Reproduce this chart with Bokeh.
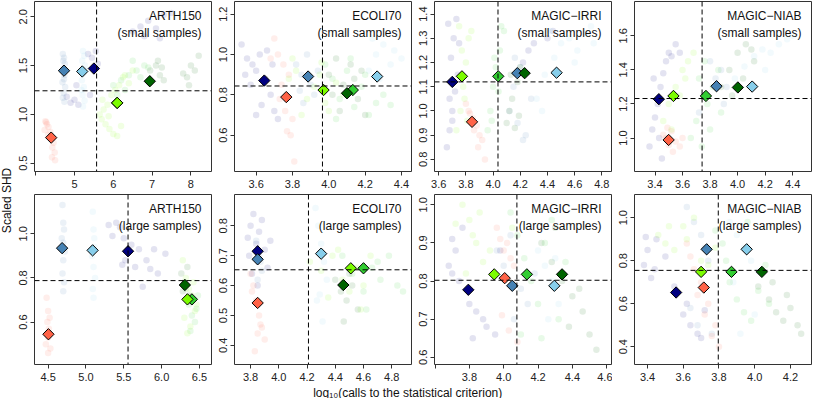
import numpy as np
from bokeh.plotting import figure
from bokeh.models import Range1d, FixedTicker, Span
from bokeh.layouts import row, column
from bokeh.core.properties import value
from bokeh.embed import file_html
from bokeh.resources import INLINE

FONT = "Liberation Sans"

# ---- series (7 methods), drawn in this order ----
SERIES = ["navy", "steelblue", "skyblue", "tomato", "limegreen", "lawngreen", "darkgreen"]
COLORS = ["#000080", "#4682B4", "#87CEEB", "#FF6347", "#32CD32", "#7CFC00", "#006400"]

PANEL_NAMES = ["ARTH150", "ECOLI70", "MAGIC\u2212IRRI", "MAGIC\u2212NIAB"]
ROW_LABELS = ["(small samples)", "(large samples)"]

Y_TITLE = "Scaled SHD"
X_TITLE = "log\u2081\u2080(calls to the statistical criterion)"

# ---- axis ranges ----
x_ranges = [(3.97, 8.53), (3.481, 4.455), (3.569, 4.871), (3.251, 4.537),
            (4.32, 6.659), (3.686, 4.94), (3.597, 4.628), (3.327, 4.318)]
y_ranges = [(0.415, 2.157), (0.42, 1.263), (0.75, 1.452), (0.804, 1.801),
            (0.408, 1.178), (0.336, 0.905), (0.581, 1.027), (0.317, 1.108)]

# ---- ticks ----
x_ticks = [[4, 5, 6, 7, 8], [3.6, 3.8, 4.0, 4.2, 4.4], [3.6, 3.8, 4.0, 4.2, 4.4, 4.6, 4.8],
           [3.4, 3.6, 3.8, 4.0, 4.2, 4.4], [4.5, 5.0, 5.5, 6.0, 6.5],
           [3.8, 4.0, 4.2, 4.4, 4.6, 4.8], [3.6, 3.8, 4.0, 4.2, 4.4, 4.6],
           [3.4, 3.6, 3.8, 4.0, 4.2]]
x_tick_labels = [["", "5", "6", "7", "8"], ["3.6", "3.8", "4.0", "4.2", "4.4"],
                 ["3.6", "3.8", "4.0", "4.2", "4.4", "4.6", "4.8"],
                 ["3.4", "3.6", "3.8", "4.0", "4.2", "4.4"], ["4.5", "5.0", "5.5", "6.0", "6.5"],
                 ["3.8", "4.0", "4.2", "4.4", "4.6", "4.8"], ["", "3.8", "4.0", "4.2", "4.4", "4.6"],
                 ["3.4", "3.6", "3.8", "4.0", "4.2"]]
y_ticks = [[0.5, 1.0, 1.5, 2.0], [0.6, 0.8, 1.0, 1.2], [0.8, 0.9, 1.0, 1.1, 1.2, 1.3, 1.4],
           [1.0, 1.2, 1.4, 1.6], [0.6, 0.8, 1.0], [0.4, 0.5, 0.6, 0.7, 0.8],
           [0.6, 0.7, 0.8, 0.9, 1.0], [0.4, 0.6, 0.8, 1.0]]
y_tick_labels = [["0.5", "1.0", "1.5", "2.0"], ["0.6", "0.8", "1.0", "1.2"],
                 ["0.8", "0.9", "1.0", "1.1", "1.2", "1.3", "1.4"], ["1.0", "1.2", "1.4", "1.6"],
                 ["0.6", "0.8", "1.0"], ["0.4", "0.5", "0.6", "0.7", "0.8"],
                 ["0.6", "0.7", "0.8", "0.9", "1.0"], ["0.4", "0.6", "0.8", "1.0"]]

# ---- dashed reference lines ----
h_lines = [1.242, 0.844, 1.12, 1.232, 0.788, 0.653, 0.802, 0.755]
v_lines = [5.57, 3.965, 4.036, 3.742, 5.556, 4.21, 4.077, 3.796]

# ---- diamonds (means), in SERIES order ----
arth150_small_x = [5.50, 4.73, 5.20, 4.40, 6.10, 6.10, 6.94]
arth150_small_y = [1.47, 1.448, 1.44, 0.762, 1.118, 1.118, 1.34]
ecoli70_small_x = [3.645, 3.886, 4.266, 3.766, 4.132, 3.971, 4.10]
ecoli70_small_y = [0.871, 0.891, 0.891, 0.789, 0.824, 0.824, 0.808]
irri_small_x = [3.70, 4.178, 4.467, 3.845, 4.038, 3.771, 4.232]
irri_small_y = [1.12, 1.156, 1.158, 0.955, 1.143, 1.143, 1.156]
niab_small_x = [3.428, 3.847, 4.106, 3.499, 3.770, 3.534, 4.002]
niab_small_y = [1.228, 1.304, 1.302, 0.989, 1.247, 1.247, 1.297]
arth150_large_x = [5.556, 4.685, 5.088, 4.504, 6.40, 6.341, 6.307]
arth150_large_y = [0.921, 0.935, 0.925, 0.545, 0.703, 0.703, 0.768]
ecoli70_large_x = [3.85, 3.85, 4.30, 3.85, 4.60, 4.51, 4.457]
ecoli70_large_y = [0.715, 0.688, 0.707, 0.542, 0.658, 0.658, 0.602]
irri_large_x = [3.794, 4.05, 4.295, 4.006, 4.135, 3.945, 4.34]
irri_large_y = [0.777, 0.7875, 0.7875, 0.8075, 0.8175, 0.8175, 0.8175]
niab_large_x = [3.56, 3.731, 3.955, 3.715, 3.87, 3.70, 4.04]
niab_large_y = [0.652, 0.853, 0.853, 0.675, 0.748, 0.748, 0.748]

# ---- faint clouds of individual runs ----
arth150_small_cloud = {
    "navy": ([4.80, 4.90, 5.00, 5.10, 5.35, 5.45, 5.55, 5.60, 5.40, 5.05, 6.50, 6.70, 6.90, 7.10, 7.30, 7.50, 6.80, 7.20],
             [1.18, 1.12, 1.15, 1.10, 1.62, 1.58, 1.65, 1.52, 1.20, 1.30, 1.85, 1.90, 1.96, 1.88, 2.02, 2.04, 1.80, 1.78]),
    "steelblue": ([4.70, 4.73, 4.75, 4.71, 4.74, 4.69, 4.76, 4.72, 4.70, 4.74, 4.73, 4.71],
                  [1.62, 1.58, 1.52, 1.47, 1.40, 1.33, 1.28, 1.22, 1.17, 1.13, 1.36, 1.55]),
    "skyblue": ([5.22, 5.25, 5.20, 5.27, 5.23, 5.19, 5.24, 5.21, 5.26, 5.22, 5.18, 5.24],
                [1.65, 1.60, 1.55, 1.50, 1.42, 1.35, 1.28, 1.20, 1.14, 1.08, 1.25, 1.46]),
    "tomato": ([4.25, 4.29, 4.33, 4.23, 4.38, 4.42, 4.46, 4.43, 4.49, 4.42, 4.50, 4.32, 4.27],
               [0.93, 0.90, 0.87, 0.84, 0.82, 0.76, 0.71, 0.66, 0.61, 0.56, 0.53, 0.79, 0.92]),
    "limegreen": ([6.00, 6.20, 6.40, 6.60, 6.80, 6.30, 6.50, 6.10, 6.70, 6.90],
                  [1.30, 1.35, 1.40, 1.45, 1.50, 1.25, 1.55, 1.20, 1.38, 1.48]),
    "lawngreen": ([5.65, 5.70, 5.80, 5.90, 5.75, 5.85, 6.00, 6.10, 6.20, 5.95, 6.05, 6.15, 6.25, 5.72, 5.88, 6.30, 6.40, 6.50],
                  [1.00, 0.95, 0.90, 0.85, 1.05, 1.10, 0.80, 0.78, 0.88, 1.20, 1.25, 1.30, 1.38, 1.15, 0.98, 1.40, 1.32, 1.45]),
    "darkgreen": ([6.95, 7.10, 7.20, 7.30, 7.15, 7.80, 7.90, 8.00, 8.10, 8.20, 7.25, 7.95],
                  [1.45, 1.50, 1.40, 1.35, 1.55, 1.42, 1.38, 1.50, 1.45, 1.60, 1.48, 1.30]),
}
ecoli70_small_cloud = {
    "navy": ([3.52, 3.55, 3.58, 3.60, 3.62, 3.65, 3.68, 3.70, 3.57, 3.63, 3.72, 3.54, 3.66, 3.60, 3.69],
             [1.05, 0.98, 0.95, 0.92, 1.00, 0.88, 0.80, 0.72, 0.85, 0.75, 0.68, 0.90, 1.02, 0.70, 0.95]),
    "steelblue": ([3.82, 3.85, 3.88, 3.90, 3.92, 3.86, 3.94, 3.84],
                  [0.95, 0.90, 1.00, 0.85, 0.80, 0.76, 0.92, 0.82]),
    "skyblue": ([4.22, 4.26, 4.30, 4.34, 4.38, 4.28, 4.36, 4.24, 4.40],
                [0.92, 1.00, 1.05, 0.95, 1.10, 0.88, 1.02, 1.08, 0.98]),
    "tomato": ([3.70, 3.72, 3.75, 3.78, 3.76, 3.80, 3.77, 3.79, 3.74, 3.73, 3.81, 3.68],
               [1.08, 1.00, 0.95, 0.90, 0.72, 0.68, 0.62, 0.60, 0.85, 0.78, 0.47, 0.98]),
    "limegreen": ([3.98, 4.02, 4.06, 4.10, 4.14, 4.18, 4.22, 4.26, 4.30, 4.04, 4.12, 4.20, 4.34],
                  [0.95, 0.88, 0.78, 0.92, 0.74, 0.84, 0.70, 0.76, 0.80, 0.68, 0.98, 0.90, 0.75]),
    "lawngreen": ([3.78, 3.82, 3.88, 3.92, 3.96, 4.00, 4.04, 3.85, 3.95, 4.08, 3.80, 3.98],
                  [0.88, 0.92, 0.78, 0.84, 0.96, 0.72, 0.86, 0.70, 0.90, 0.80, 0.98, 0.76]),
    "darkgreen": ([4.00, 4.04, 4.08, 4.12, 4.16, 4.20, 4.06, 4.14, 4.02, 4.18],
                  [0.90, 0.98, 0.85, 0.95, 0.78, 0.70, 0.72, 0.88, 0.80, 0.92]),
}
irri_small_cloud = {
    "navy": ([3.66, 3.68, 3.70, 3.72, 3.74, 3.69, 3.71, 3.67, 3.73, 3.70, 3.75, 3.68, 4.22, 4.26, 4.30, 4.40, 4.44],
             [0.85, 0.92, 1.00, 1.08, 1.15, 1.22, 1.30, 1.36, 1.38, 0.96, 1.28, 1.05, 1.20, 1.25, 1.28, 1.30, 1.33]),
    "steelblue": ([4.12, 4.15, 4.18, 4.20, 4.24, 4.28, 4.16, 4.22],
                  [1.00, 1.10, 0.95, 1.18, 0.90, 1.05, 1.22, 0.88]),
    "skyblue": ([4.32, 4.38, 4.45, 4.50, 4.56, 4.62, 4.68, 4.74, 4.42, 4.60, 4.72, 4.36],
                [1.05, 1.15, 1.22, 1.28, 1.30, 1.25, 1.32, 1.28, 1.33, 1.20, 1.35, 1.00]),
    "tomato": ([3.80, 3.82, 3.85, 3.88, 3.90, 3.92, 3.86, 3.83, 3.94, 3.89],
               [1.03, 1.00, 0.97, 0.94, 0.90, 0.88, 0.92, 0.99, 0.80, 0.85]),
    "limegreen": ([3.96, 3.98, 4.00, 4.02, 4.05, 4.08, 4.04, 3.99, 4.06, 4.01],
                  [0.92, 1.00, 1.10, 1.18, 1.25, 1.33, 1.08, 0.96, 1.35, 1.22]),
    "lawngreen": ([3.73, 3.76, 3.78, 3.80, 3.82, 3.75, 3.79, 3.84, 3.77, 3.81],
                  [0.92, 1.00, 1.10, 1.20, 1.30, 1.35, 1.05, 1.33, 1.25, 0.96]),
    "darkgreen": ([4.10, 4.12, 4.14, 4.16, 4.18, 4.20, 4.13, 4.19],
                  [0.95, 1.00, 1.05, 0.93, 1.12, 1.18, 1.15, 0.98]),
}
niab_small_cloud = {
    "navy": ([3.36, 3.38, 3.40, 3.42, 3.44, 3.46, 3.48, 3.50, 3.52, 3.55, 3.58, 3.39, 3.45, 3.43],
             [0.95, 1.05, 1.12, 1.20, 1.30, 1.38, 1.45, 1.50, 1.48, 1.55, 1.50, 1.35, 0.88, 1.00]),
    "steelblue": ([3.72, 3.78, 3.84, 3.88, 3.92, 3.80, 3.90],
                  [1.15, 1.25, 1.35, 1.40, 1.30, 1.45, 1.20]),
    "skyblue": ([3.98, 4.05, 4.12, 4.18, 4.24, 4.30, 4.36, 4.40, 4.20, 4.10],
                [1.35, 1.42, 1.48, 1.52, 1.50, 1.55, 1.58, 1.60, 1.40, 1.30]),
    "tomato": ([3.46, 3.48, 3.50, 3.52, 3.55, 3.58, 3.60, 3.53, 3.49],
               [1.02, 1.00, 0.96, 1.04, 0.98, 0.95, 1.00, 0.92, 1.06]),
    "limegreen": ([3.66, 3.70, 3.74, 3.78, 3.82, 3.86, 3.72, 3.80, 3.76, 3.88],
                  [1.00, 1.10, 0.95, 1.20, 1.30, 1.40, 1.35, 1.05, 1.45, 1.15]),
    "lawngreen": ([3.46, 3.50, 3.55, 3.60, 3.64, 3.68, 3.52, 3.62, 3.58],
                  [1.10, 1.20, 1.30, 1.40, 1.45, 1.50, 1.05, 1.35, 1.25]),
    "darkgreen": ([3.88, 3.94, 4.00, 4.06, 4.12, 3.96, 4.04, 4.10],
                  [1.30, 1.40, 1.50, 1.55, 1.45, 1.25, 1.35, 1.52]),
}
arth150_large_cloud = {
    "navy": ([5.30, 5.40, 5.45, 5.50, 5.52, 5.60, 5.65, 5.70, 5.80, 5.85, 5.90, 5.95, 6.05, 5.35, 5.75, 5.48],
             [1.04, 1.05, 1.03, 0.98, 0.88, 0.95, 0.85, 0.93, 0.88, 0.84, 0.93, 0.82, 0.91, 0.99, 0.76, 0.86]),
    "steelblue": ([4.69, 4.70, 4.71, 4.68, 4.72, 4.70, 4.69, 4.71, 4.70, 4.70],
                  [1.13, 1.05, 1.02, 0.98, 0.92, 0.88, 0.82, 0.78, 0.74, 0.96]),
    "skyblue": ([5.09, 5.10, 5.11, 5.08, 5.10, 5.12, 5.09, 5.10, 5.11],
                [1.10, 1.02, 0.98, 0.90, 0.85, 0.80, 0.75, 0.71, 0.94]),
    "tomato": ([4.48, 4.50, 4.52, 4.49, 4.51, 4.50, 4.47, 4.53, 4.50, 4.49],
               [0.71, 0.65, 0.62, 0.60, 0.57, 0.53, 0.50, 0.48, 0.46, 0.55]),
    "limegreen": ([6.32, 6.36, 6.40, 6.44, 6.48, 6.38, 6.46],
                  [0.75, 0.68, 0.63, 0.60, 0.72, 0.56, 0.66]),
    "lawngreen": ([6.28, 6.32, 6.36, 6.40, 6.44, 6.30, 6.38, 6.46, 6.34, 6.42],
                  [0.88, 0.80, 0.75, 0.72, 0.65, 0.62, 0.58, 0.68, 0.55, 0.78]),
    "darkgreen": ([6.26, 6.30, 6.34, 6.28, 6.36],
                  [0.82, 0.78, 0.85, 0.74, 0.72]),
}
ecoli70_large_cloud = {
    "navy": ([3.78, 3.80, 3.82, 3.84, 3.86, 3.88, 3.90, 3.92, 3.79, 3.85, 3.94, 3.81],
             [0.76, 0.80, 0.84, 0.74, 0.78, 0.82, 0.72, 0.66, 0.70, 0.60, 0.75, 0.64]),
    "steelblue": ([3.84, 3.86, 3.88, 3.85, 3.87],
                  [0.75, 0.70, 0.65, 0.62, 0.68]),
    "skyblue": ([4.26, 4.28, 4.30, 4.32, 4.34, 4.29, 4.31, 4.27],
                [0.86, 0.80, 0.74, 0.68, 0.62, 0.57, 0.48, 0.55]),
    "tomato": ([3.80, 3.82, 3.84, 3.86, 3.88, 3.90, 3.83, 3.87, 3.85, 3.81],
               [0.64, 0.60, 0.55, 0.50, 0.46, 0.42, 0.38, 0.47, 0.44, 0.58]),
    "limegreen": ([4.45, 4.52, 4.60, 4.66, 4.72, 4.78, 4.84, 4.88, 4.62, 4.70],
                  [0.70, 0.64, 0.58, 0.66, 0.62, 0.70, 0.60, 0.58, 0.52, 0.68]),
    "lawngreen": ([4.22, 4.30, 4.38, 4.45, 4.50, 4.55, 4.60, 4.65, 4.35, 4.42, 4.58],
                  [0.68, 0.65, 0.70, 0.62, 0.58, 0.66, 0.60, 0.70, 0.56, 0.72, 0.52]),
    "darkgreen": ([4.40, 4.44, 4.48, 4.52, 4.56, 4.46, 4.50],
                  [0.62, 0.58, 0.55, 0.60, 0.52, 0.48, 0.64]),
}
irri_large_cloud = {
    "navy": ([3.68, 3.70, 3.72, 3.74, 3.76, 3.80, 3.84, 3.88, 3.90, 3.95, 3.70, 3.82, 3.98],
             [0.84, 0.91, 0.88, 0.80, 0.94, 0.74, 0.72, 0.70, 0.68, 0.66, 0.82, 0.65, 0.88]),
    "steelblue": ([3.96, 4.00, 4.04, 4.10, 4.14, 4.18, 4.06],
                  [0.88, 0.84, 0.92, 0.78, 0.74, 0.82, 0.70]),
    "skyblue": ([4.20, 4.24, 4.28, 4.32, 4.26, 4.30],
                [0.88, 0.84, 0.80, 0.74, 0.70, 0.86]),
    "tomato": ([3.96, 3.98, 4.00, 4.02, 4.04, 4.06, 4.08, 3.99, 4.03],
               [0.94, 0.91, 0.88, 0.90, 0.86, 0.84, 0.64, 0.71, 0.67]),
    "limegreen": ([4.04, 4.08, 4.12, 4.16, 4.20, 4.24, 4.28, 4.32, 4.10, 4.22, 4.36],
                  [0.98, 0.92, 0.86, 0.80, 0.74, 0.90, 0.96, 0.70, 0.66, 0.65, 0.85]),
    "lawngreen": ([3.72, 3.76, 3.80, 3.84, 3.88, 3.92, 3.78, 3.86, 3.82, 4.05],
                  [0.95, 1.00, 0.96, 0.90, 0.85, 0.88, 0.82, 0.98, 0.92, 0.94]),
    "darkgreen": ([4.22, 4.28, 4.34, 4.40, 4.46, 4.50, 4.54, 4.30, 4.44, 4.38],
                  [0.90, 0.85, 0.80, 0.76, 0.72, 0.66, 0.62, 0.94, 0.78, 0.68]),
}
niab_large_cloud = {
    "navy": ([3.38, 3.40, 3.42, 3.45, 3.50, 3.55, 3.60, 3.64, 3.68, 3.72, 3.44, 3.62, 3.70, 3.39],
             [0.78, 0.85, 0.72, 0.90, 0.82, 0.68, 0.55, 0.50, 0.46, 0.57, 0.76, 0.60, 0.44, 0.91]),
    "steelblue": ([3.62, 3.66, 3.70, 3.72, 3.74, 3.68, 3.76, 3.64],
                  [1.05, 0.98, 0.92, 0.86, 0.80, 0.50, 0.46, 0.58]),
    "skyblue": ([3.86, 3.90, 3.94, 3.98, 4.02, 3.92, 4.00, 3.88],
                [0.98, 0.92, 0.86, 0.80, 0.75, 0.46, 0.55, 0.70]),
    "tomato": ([3.62, 3.64, 3.66, 3.70, 3.74, 3.78, 3.80, 3.68, 3.76, 3.72],
               [0.88, 0.82, 0.76, 0.70, 0.60, 0.50, 0.40, 0.64, 0.45, 0.55]),
    "limegreen": ([3.78, 3.82, 3.86, 3.90, 3.94, 3.98, 4.02, 4.06, 3.84, 3.96, 4.08],
                  [0.94, 0.88, 0.70, 0.62, 0.56, 0.52, 0.66, 0.78, 0.80, 0.98, 0.60]),
    "lawngreen": ([3.46, 3.50, 3.55, 3.60, 3.66, 3.70, 3.74, 3.52, 3.62, 3.78],
                  [0.92, 0.88, 0.85, 0.96, 1.00, 0.80, 0.78, 0.96, 0.90, 0.86]),
    "darkgreen": ([4.02, 4.08, 4.12, 4.16, 4.20, 4.24, 4.26, 4.10, 4.18],
                  [0.68, 0.62, 0.56, 0.52, 0.58, 0.50, 0.46, 0.70, 0.64]),
}

diam_x = [arth150_small_x, ecoli70_small_x, irri_small_x, niab_small_x,
          arth150_large_x, ecoli70_large_x, irri_large_x, niab_large_x]
diam_y = [arth150_small_y, ecoli70_small_y, irri_small_y, niab_small_y,
          arth150_large_y, ecoli70_large_y, irri_large_y, niab_large_y]
clouds = [arth150_small_cloud, ecoli70_small_cloud, irri_small_cloud, niab_small_cloud,
          arth150_large_cloud, ecoli70_large_cloud, irri_large_cloud, niab_large_cloud]

# ---- layout constants ----
PW, PH = 200, 193
BL, BR, BT, BB = 22, 1, 1, 22
FW, FH = PW - BL - BR, PH - BT - BB


def make_panel(i):
    xr, yr = x_ranges[i], y_ranges[i]
    p = figure(width=PW, height=PH, x_range=Range1d(*xr), y_range=Range1d(*yr),
               output_backend="svg", toolbar_location=None,
               min_border_left=BL, min_border_right=BR, min_border_top=BT, min_border_bottom=BB)
    p.xgrid.visible = False
    p.ygrid.visible = False
    p.outline_line_color = "#333333"
    p.outline_line_width = 1
    p.background_fill_color = "white"
    p.border_fill_color = "white"

    for ax, ticks, labs in ((p.xaxis[0], x_ticks[i], x_tick_labels[i]),
                            (p.yaxis[0], y_ticks[i], y_tick_labels[i])):
        ax.ticker = FixedTicker(ticks=ticks)
        ax.major_label_overrides = {t: l for t, l in zip(ticks, labs)}
        ax.axis_line_color = None
        ax.major_tick_out = 4
        ax.major_tick_in = 0
        ax.major_tick_line_color = "#333333"
        ax.minor_tick_out = 0
        ax.minor_tick_in = 0
        ax.major_label_text_font = FONT
        ax.major_label_text_font_size = "11px"
        ax.major_label_text_color = "#222222"
        ax.major_label_standoff = 4
    p.yaxis[0].major_label_orientation = "vertical"
    p.yaxis[0].major_label_standoff = 3

    cl = clouds[i]
    for name, col in zip(SERIES, COLORS):
        cx, cy = cl[name]
        p.scatter(cx, cy, marker="circle", size=6.5, fill_color=col, fill_alpha=0.11,
                  line_color=None)

    p.add_layout(Span(location=h_lines[i], dimension="width", line_color="black",
                      line_width=1, line_dash="5 3"))
    p.add_layout(Span(location=v_lines[i], dimension="height", line_color="black",
                      line_width=1, line_dash="5 3"))

    for k, col in enumerate(COLORS):
        p.scatter([diam_x[i][k]], [diam_y[i][k]], marker="square", angle=np.pi / 4,
                  size=8, fill_color=col, line_color="black", line_width=1)

    dx = xr[1] - xr[0]
    dy = yr[1] - yr[0]
    tx = xr[1] - 10.0 / FW * dx
    ty1 = yr[1] - 14.0 / FH * dy
    ty2 = yr[1] - 31.0 / FH * dy
    p.text([tx, tx], [ty1, ty2], text=[PANEL_NAMES[i % 4], ROW_LABELS[i // 4]],
           text_align="right", text_baseline="middle", text_font=value(FONT),
           text_font_size="12px", text_color="#111111")
    return p


panels = [make_panel(i) for i in range(8)]

# y title column
yt = figure(width=12, height=2 * PH, x_range=Range1d(0, 1), y_range=Range1d(0, 1),
            output_backend="svg", toolbar_location=None, x_axis_type=None, y_axis_type=None,
            min_border=0)
yt.grid.visible = False
yt.outline_line_color = None
yt.text([0.5], [0.482], text=[Y_TITLE], angle=np.pi / 2, text_align="center",
        text_baseline="middle", text_font=value(FONT), text_font_size="12px", text_color="#111111")

# x title row
xt = figure(width=4 * PW, height=12, x_range=Range1d(0, 1), y_range=Range1d(0, 1),
            output_backend="svg", toolbar_location=None, x_axis_type=None, y_axis_type=None,
            min_border=0)
xt.grid.visible = False
xt.outline_line_color = None
xt.text([0.494], [0.5], text=[X_TITLE], text_align="center", text_baseline="middle",
        text_font=value(FONT), text_font_size="12px", text_color="#111111")

layout = row(yt, column(row(*panels[:4]), row(*panels[4:]), xt))

open("out.html", "w").write(file_html(layout, INLINE))
